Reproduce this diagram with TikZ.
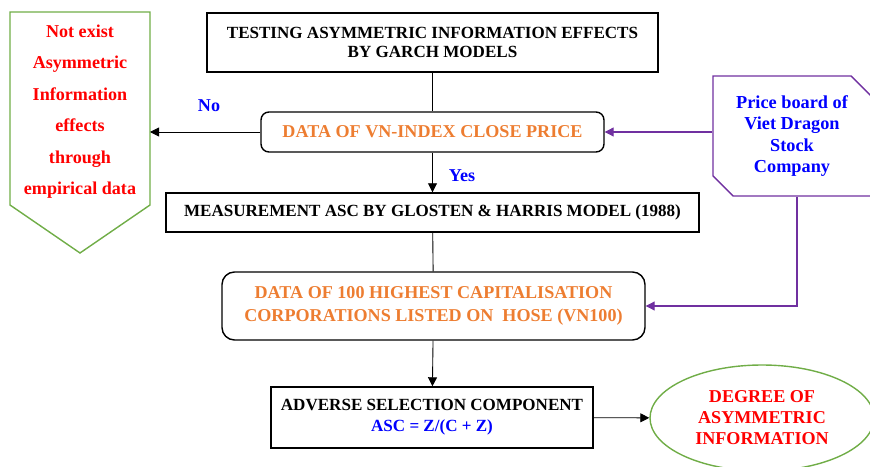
\documentclass[tikz,border=0pt]{standalone}
\usepackage{fontspec}
\setmainfont{Liberation Serif}
\usetikzlibrary{shapes,arrows.meta,positioning}
\definecolor{txtorange}{RGB}{237,125,49}
\definecolor{frmgreen}{RGB}{112,173,71}
\definecolor{frmpurple}{RGB}{112,48,160}
\tikzset{
  plainbox/.style={draw, line width=0.8pt, align=center, inner sep=0pt,
    font=\bfseries\fontsize{9.7}{11.1}\selectfont},
  databox/.style={plainbox, rounded corners=0.16cm, text=txtorange,
    font=\bfseries\fontsize{10.3}{13.1}\selectfont},
  lbl/.style={text=blue, font=\bfseries\fontsize{10.3}{12}\selectfont},
  tip/.style={-{Triangle[length=0.18cm,width=0.18cm]}, line width=0.5pt},
  sidelink/.style={tip, frmpurple, line width=0.6pt},
}

\begin{document}
\begin{tikzpicture}
    \useasboundingbox (0,0) rectangle (17.4,9.32);
    % main column
    \node[plainbox, minimum width=9.02cm, minimum height=1.18cm] (garch) at (8.65,8.47)
        {TESTING ASYMMETRIC INFORMATION EFFECTS\\BY GARCH MODELS};
    \node[databox, minimum width=6.86cm, minimum height=0.8cm] (vnindex) at (8.65,6.68)
        {DATA OF VN-INDEX CLOSE PRICE};
    \node[plainbox, minimum width=10.66cm, minimum height=0.78cm] (glosten) at (8.65,5.07)
        {MEASUREMENT ASC BY GLOSTEN \& HARRIS MODEL (1988)};
    \node[databox, rounded corners=0.25cm, minimum width=8.46cm, minimum height=1.36cm] (vn100) at (8.67,3.2)
        {DATA OF 100 HIGHEST CAPITALISATION\\CORPORATIONS LISTED ON\ \ HOSE (VN100)};
    \node[plainbox, minimum width=6.44cm, minimum height=1.22cm] (asc) at (8.64,0.97)
        {ADVERSE SELECTION COMPONENT\\[1pt]\textcolor{blue}{ASC = Z/(C + Z)}};
    % side shapes
    \draw[frmgreen, line width=0.8pt] (0.2,9.08) -- (3.0,9.08) coordinate (ne) -- (3.0,5.22)
        -- (1.6,4.26) -- (0.2,5.22) -- cycle;
    \node[text=red, align=center, font=\bfseries\fontsize{10.3}{17.9}\selectfont] (noexist) at (1.6,7.09)
        {Not exist\\Asymmetric\\Information\\effects\\through\\empirical data};
    \node[draw=frmpurple, line width=0.8pt, chamfered rectangle,
        chamfered rectangle corners={north east,south west},
        chamfered rectangle xsep=0.2cm, chamfered rectangle ysep=0.2cm,
        minimum width=3.16cm, minimum height=2.4cm, inner sep=0pt,
        text=blue, align=center, font=\bfseries\fontsize{10.4}{12.1}\selectfont] (board) at (15.84,6.6)
        {Price board of\\Viet Dragon\\Stock\\Company};
    \node[draw=frmgreen, line width=0.8pt, ellipse, minimum width=4.48cm, minimum height=2.12cm,
        text=red, align=center, font=\bfseries\fontsize{10.3}{12}\selectfont] (degree) at (15.24,0.96)
        {DEGREE OF\\ASYMMETRIC\\INFORMATION};
    \node[lbl] (no) at (4.18,7.2) {No};
    \node[lbl] (yes) at (9.24,5.8) {Yes};
    % connectors
    \draw[line width=0.5pt] (garch) -- (vnindex);
    \draw[tip] (vnindex.west) -- (vnindex.west -| ne);
    \draw[tip] (vnindex) -- (glosten);
    \draw[line width=0.5pt] (glosten) -- (vn100);
    \draw[tip] (vn100) -- (asc);
    \draw[tip] (asc) -- (degree);
    \draw[sidelink] (board.west |- vnindex.east) -- (vnindex.east);
    \draw[sidelink] ([xshift=0.1cm]board.south) |- (vn100.east);
\end{tikzpicture}
\end{document}
